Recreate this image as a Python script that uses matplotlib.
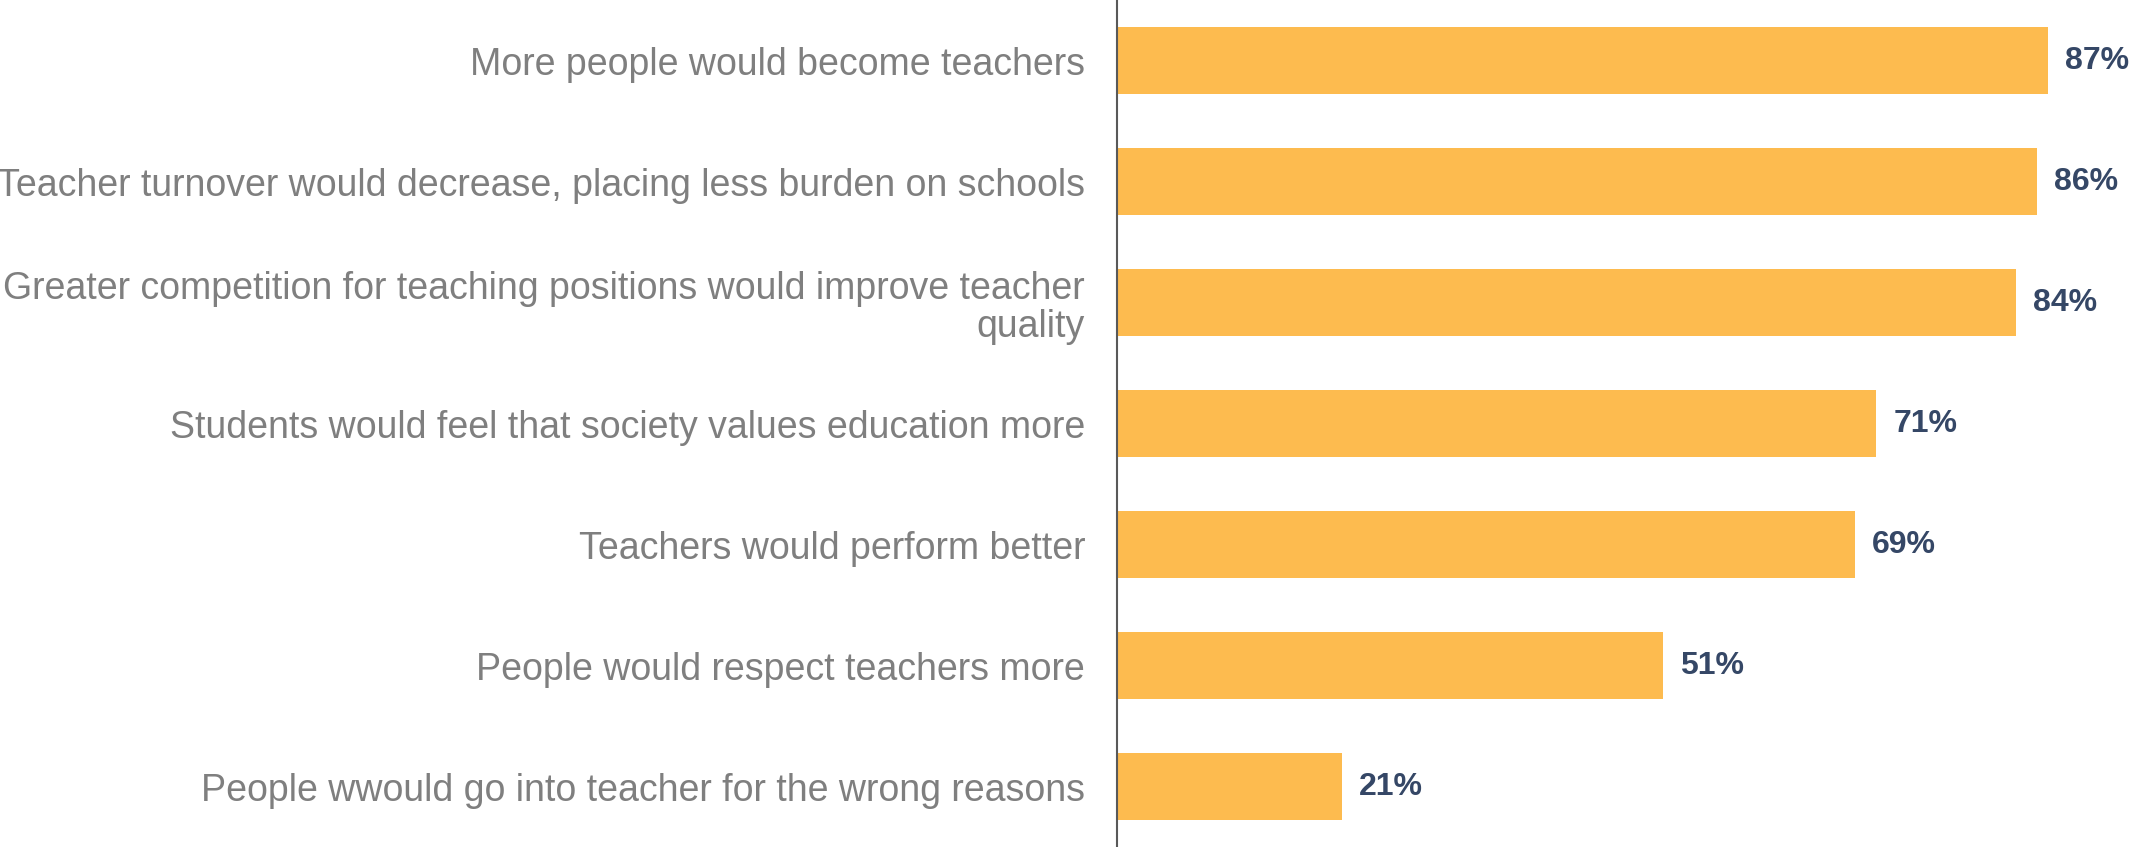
import matplotlib
matplotlib.use("Agg")
import matplotlib.pyplot as plt
import numpy as np

plt.rcParams['font.family'] = ['Liberation Sans', 'DejaVu Sans']

# data
categories = [
    "More people would become teachers",
    "Teacher turnover would decrease, placing less burden on schools",
    "Greater competition for teaching positions would improve teacher\nquality",
    "Students would feel that society values education more",
    "Teachers would perform better",
    "People would respect teachers more",
    "People wwould go into teacher for the wrong reasons",
]
values = [87, 86, 84, 71, 69, 51, 21]

fig = plt.figure(figsize=(21.3, 8.47), dpi=100)
ax = fig.add_axes([0.5244, 0.0, 0.4756, 1.0])

y = np.arange(len(categories))
ax.barh(y, values, height=0.56, color='#FDBB4F')

# value labels to the right of each bar
for yi, v in zip(y, values):
    ax.text(v + 1.6, yi, f"{v}%", va='center', ha='left',
            fontsize=23, fontweight='bold', color='#354766')

ax.set_yticks(y)
ax.set_yticklabels(categories, fontsize=27, color='#7f7f7f', linespacing=1.1)
ax.tick_params(axis='y', length=0, pad=23)
ax.set_xticks([])
ax.set_xlim(0, 94.7)
ax.set_ylim(6.5, -0.5)

for s in ['top', 'right', 'bottom']:
    ax.spines[s].set_visible(False)
ax.spines['left'].set_color('#595959')
ax.spines['left'].set_linewidth(1.5)

fig.savefig("out.png", dpi=100)
